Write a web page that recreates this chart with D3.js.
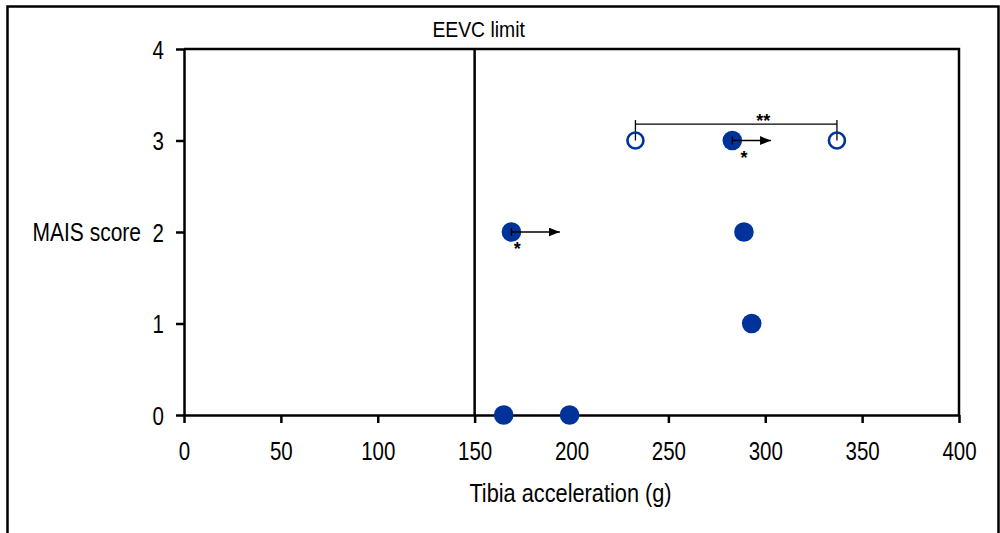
<!DOCTYPE html>
<html>
<head>
<meta charset="utf-8">
<script src="https://cdn.jsdelivr.net/npm/d3@7"></script>
<style>
  body { margin: 0; background: #fff; }
  text { font-family: "Liberation Sans", Arial, sans-serif; fill: #000; }
</style>
</head>
<body>
<svg id="chart" width="1000" height="533"></svg>
<script>
// values
const xTicks = [0, 50, 100, 150, 200, 250, 300, 350, 400];
const maisTicks = [0, 1, 2, 3, 4];
const eevcLimit = 150;

// filled points (tibia acceleration, MAIS)
const filledAccel = [165, 199, 293, 289, 169, 283];
const filledMais = [0, 0, 1, 2, 2, 3];

// open points
const openAccel = [233, 337];
const openMais = [3, 3];

// arrows from a point
const arrowFrom = [169, 283];
const arrowTo = [194, 303];
const arrowMais = [2, 3];

// single star marks
const starAccel = [172, 289];
const starMais = [2, 3];

// bracket between the open points
const bracketFrom = 233, bracketTo = 337, bracketMais = 3.18;
const bracketLabelAccel = 299;

const blue = "#003399";
const squeeze = 0.82; // narrow-font look

const svg = d3.select("#chart");

// outer frame
svg.append("rect")
  .attr("x", 7.5).attr("y", 6.5)
  .attr("width", 991).attr("height", 540)
  .attr("fill", "none").attr("stroke", "#000").attr("stroke-width", 2.5);

const plotL = 184, plotR = 959, plotT = 49, plotB = 415;

const x = d3.scaleLinear().domain([0, 400]).range([plotL, plotR]);
const y = d3.scaleLinear().domain([0, 4]).range([plotB, plotT]);

// plot box top + right
svg.append("path")
  .attr("d", `M${plotL},${plotT}H${plotR}V${plotB}`)
  .attr("fill", "none").attr("stroke", "#000").attr("stroke-width", 2.5);

const xAxis = svg.append("g")
  .attr("transform", `translate(0,${plotB})`)
  .call(d3.axisBottom(x).tickValues(xTicks).tickSizeInner(8).tickSizeOuter(0));
const yAxis = svg.append("g")
  .attr("transform", `translate(${plotL},0)`)
  .call(d3.axisLeft(y).tickValues(maisTicks).tickFormat(d3.format("d")).tickSizeInner(8).tickSizeOuter(0));

[xAxis, yAxis].forEach(g => {
  g.select(".domain").attr("stroke", "#000").attr("stroke-width", 2.5);
  g.selectAll(".tick line").attr("stroke", "#000").attr("stroke-width", 2.5);
  g.selectAll(".tick text")
    .style("font-family", '"Liberation Sans", Arial, sans-serif')
    .style("font-size", "25px").attr("fill", "#000")
    .attr("transform", `scale(${squeeze},1)`);
});
xAxis.selectAll(".tick text").attr("x", 0).attr("y", 45).attr("dy", 0);
yAxis.selectAll(".tick text").attr("x", -20 / squeeze).attr("dy", "0.36em");

// axis titles
svg.append("g")
  .attr("transform", `translate(${x(200) - 1},502) scale(0.87,1)`)
  .append("text")
  .attr("text-anchor", "middle")
  .style("font-size", "25px")
  .text("Tibia acceleration (g)");

svg.append("g")
  .attr("transform", `translate(141,${y(2)}) scale(0.84,1)`)
  .append("text")
  .attr("dy", "0.36em")
  .attr("text-anchor", "end")
  .style("font-size", "25px")
  .text("MAIS score");

// EEVC limit line
svg.append("line")
  .attr("x1", x(eevcLimit)).attr("x2", x(eevcLimit))
  .attr("y1", plotT).attr("y2", plotB)
  .attr("stroke", "#000").attr("stroke-width", 2.5);
svg.append("g")
  .attr("transform", `translate(${x(eevcLimit) + 4},37) scale(0.9,1)`)
  .append("text")
  .attr("text-anchor", "middle")
  .style("font-size", "21.5px")
  .text("EEVC limit");

// bracket
const by = y(bracketMais);
svg.append("line")
  .attr("x1", x(bracketFrom)).attr("x2", x(bracketTo))
  .attr("y1", by).attr("y2", by)
  .attr("stroke", "#000").attr("stroke-width", 1.3);
[bracketFrom, bracketTo].forEach(v => {
  svg.append("line")
    .attr("x1", x(v)).attr("x2", x(v))
    .attr("y1", by - 4).attr("y2", y(openMais[0]))
    .attr("stroke", "#000").attr("stroke-width", 1.3);
});
svg.append("text")
  .attr("x", x(bracketLabelAccel)).attr("y", by + 3)
  .attr("text-anchor", "middle")
  .style("font-size", "18px").style("font-weight", "bold")
  .text("**");

// open points
svg.selectAll(".open")
  .data(openAccel)
  .join("circle")
  .attr("class", "open")
  .attr("cx", d => x(d))
  .attr("cy", (d, i) => y(openMais[i]))
  .attr("r", 8)
  .attr("fill", "none")
  .attr("stroke", blue)
  .attr("stroke-width", 2.6);

// filled points
svg.selectAll(".filled")
  .data(filledAccel)
  .join("circle")
  .attr("class", "filled")
  .attr("cx", d => x(d))
  .attr("cy", (d, i) => y(filledMais[i]))
  .attr("r", 9.8)
  .attr("fill", blue);

// arrows
svg.append("defs").append("marker")
  .attr("id", "head")
  .attr("viewBox", "0 0 10 8")
  .attr("refX", 10).attr("refY", 4)
  .attr("markerWidth", 11).attr("markerHeight", 9)
  .attr("markerUnits", "userSpaceOnUse")
  .attr("orient", "auto")
  .append("path").attr("d", "M0,0L10,4L0,8Z").attr("fill", "#000");

arrowFrom.forEach((v, i) => {
  const ay = y(arrowMais[i]);
  svg.append("line")
    .attr("x1", x(v)).attr("x2", x(arrowTo[i]))
    .attr("y1", ay).attr("y2", ay)
    .attr("stroke", "#000").attr("stroke-width", 1.3)
    .attr("marker-end", "url(#head)");
  svg.append("line")
    .attr("x1", x(v)).attr("x2", x(v))
    .attr("y1", ay - 4).attr("y2", ay + 4)
    .attr("stroke", "#000").attr("stroke-width", 1.3);
});

// stars
starAccel.forEach((v, i) => {
  svg.append("text")
    .attr("x", x(v)).attr("y", y(starMais[i]) + 23)
    .attr("text-anchor", "middle")
    .style("font-size", "18px").style("font-weight", "bold")
    .text("*");
});
</script>
</body>
</html>
